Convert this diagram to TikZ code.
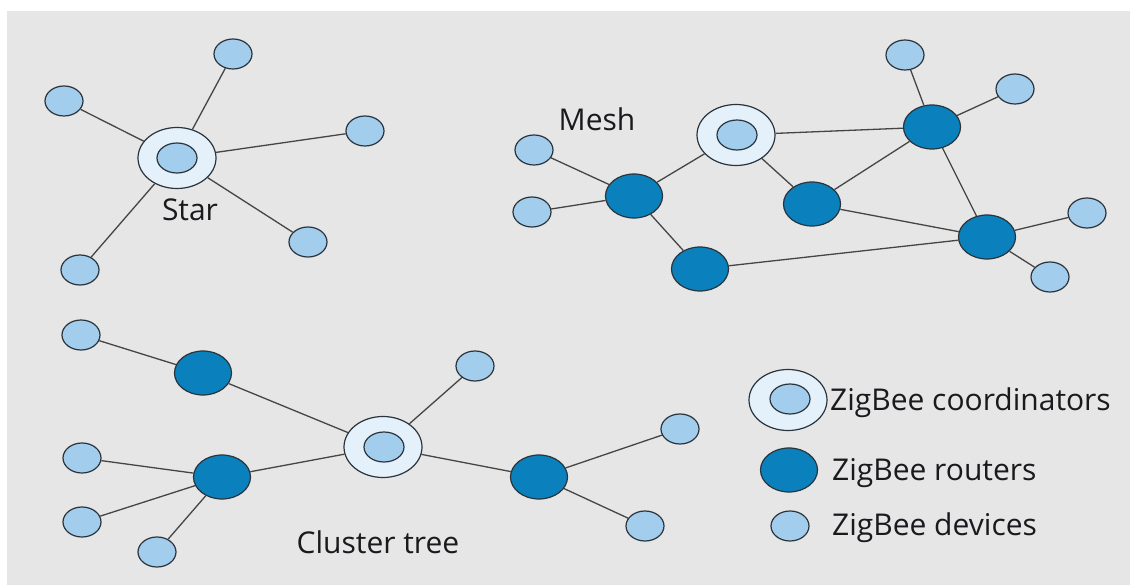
\documentclass[tikz,border=0pt]{standalone}
\usepackage{fontspec}
\setmainfont{Open Sans}
\usetikzlibrary{shapes.geometric}
\definecolor{bgc}{HTML}{E6E6E6}
\definecolor{devfill}{HTML}{A3CDEC}
\definecolor{routfill}{HTML}{0A80BC}
\definecolor{coordfill}{HTML}{E4F0FA}
\definecolor{edgec}{HTML}{454545}
\definecolor{outl}{HTML}{2A343C}
\definecolor{txt}{HTML}{1A1A1E}
\begin{document}
\begin{tikzpicture}[x=1pt,y=-1pt,
  dev/.style={ellipse, draw=outl, line width=1.2pt, fill=devfill, minimum width=38pt, minimum height=30pt, inner sep=0pt},
  rout/.style={ellipse, draw=outl, line width=1.2pt, fill=routfill, minimum width=57pt, minimum height=44pt, inner sep=0pt},
  coordo/.style={ellipse, draw=outl, line width=1.2pt, fill=coordfill, minimum width=78pt, minimum height=61pt, inner sep=0pt},
  coordi/.style={ellipse, draw=outl, line width=1.2pt, fill=devfill, minimum width=40pt, minimum height=30pt, inner sep=0pt},
  edge/.style={draw=edgec, line width=1.3pt},
  lbl/.style={text=txt, font=\fontsize{30}{36}\selectfont, inner sep=0pt}
]
\useasboundingbox (0,0) rectangle (1130,585);
\fill[white] (0,0) rectangle (1130,585);
\fill[bgc] (7,11) rectangle (1130,585);

% ---------- Star ----------
\node[coordo] (c1) at (177,158) {};
\node[coordi] (c1i) at (177,158) {};
\node[dev] (s1) at (233,54) {};
\node[dev] (s2) at (64,101) {};
\node[dev] (s3) at (365,131) {};
\node[dev] (s4) at (308,242) {};
\node[dev] (s5) at (80,270) {};
\foreach \d in {s1,s2,s3,s4,s5} \draw[edge] (c1) -- (\d);
\node[lbl, anchor=base] (star) at (190,221) {Star};

% ---------- Mesh ----------
\node[lbl, anchor=base] (mesh) at (597,131) {Mesh};
\node[coordo] (c2) at (736,135) {};
\node[coordi] (c2i) at (737,135) {};
\node[rout] (r1) at (634,196) {};
\node[rout] (r2) at (812,204) {};
\node[rout] (r3) at (932,127) {};
\node[rout] (r4) at (987,237) {};
\node[rout] (r5) at (700,269) {};
\node[dev] (m1) at (534,150) {};
\node[dev] (m2) at (532,212) {};
\node[dev] (m3) at (905,55) {};
\node[dev] (m4) at (1015,89) {};
\node[dev] (m5) at (1087,213) {};
\node[dev] (m6) at (1050,277) {};
\draw[edge] (r1) -- (m1);
\draw[edge] (r1) -- (m2);
\draw[edge] (r1) -- (c2);
\draw[edge] (r1) -- (r5);
\draw[edge] (c2) -- (r3);
\draw[edge] (c2) -- (r2);
\draw[edge] (r2) -- (r3);
\draw[edge] (r2) -- (r4);
\draw[edge] (r3) -- (r4);
\draw[edge] (r5) -- (r4);
\draw[edge] (r3) -- (m3);
\draw[edge] (r3) -- (m4);
\draw[edge] (r4) -- (m5);
\draw[edge] (r4) -- (m6);

% ---------- Cluster tree ----------
\node[coordo] (c3) at (383,447) {};
\node[coordi] (c3i) at (384,447) {};
\node[rout] (r6) at (203,373) {};
\node[rout] (r7) at (222,477) {};
\node[rout] (r8) at (539,477) {};
\node[dev] (t1) at (81,335) {};
\node[dev] (t2) at (475,366) {};
\node[dev] (t3) at (82,458) {};
\node[dev] (t4) at (82,522) {};
\node[dev] (t5) at (157,552) {};
\node[dev] (t6) at (680,429) {};
\node[dev] (t7) at (645,526) {};
\draw[edge] (r6) -- (t1);
\draw[edge] (r6) -- (c3);
\draw[edge] (c3) -- (t2);
\draw[edge] (r7) -- (c3);
\draw[edge] (c3) -- (r8);
\draw[edge] (r7) -- (t3);
\draw[edge] (r7) -- (t4);
\draw[edge] (r7) -- (t5);
\draw[edge] (r8) -- (t6);
\draw[edge] (r8) -- (t7);
\node[lbl, anchor=base] (cluster) at (378,553) {Cluster tree};

% ---------- Legend ----------
\node[coordo] (lc) at (788,400) {};
\node[coordi] (lci) at (790,399) {};
\node[rout] (lr) at (789,470) {};
\node[dev] (ld) at (790,526) {};
\node[lbl, anchor=base west] (lct) at (830,410) {ZigBee coordinators};
\node[lbl, anchor=base west] (lrt) at (832,480) {ZigBee routers};
\node[lbl, anchor=base west] (ldt) at (832,535) {ZigBee devices};
\end{tikzpicture}
\end{document}
